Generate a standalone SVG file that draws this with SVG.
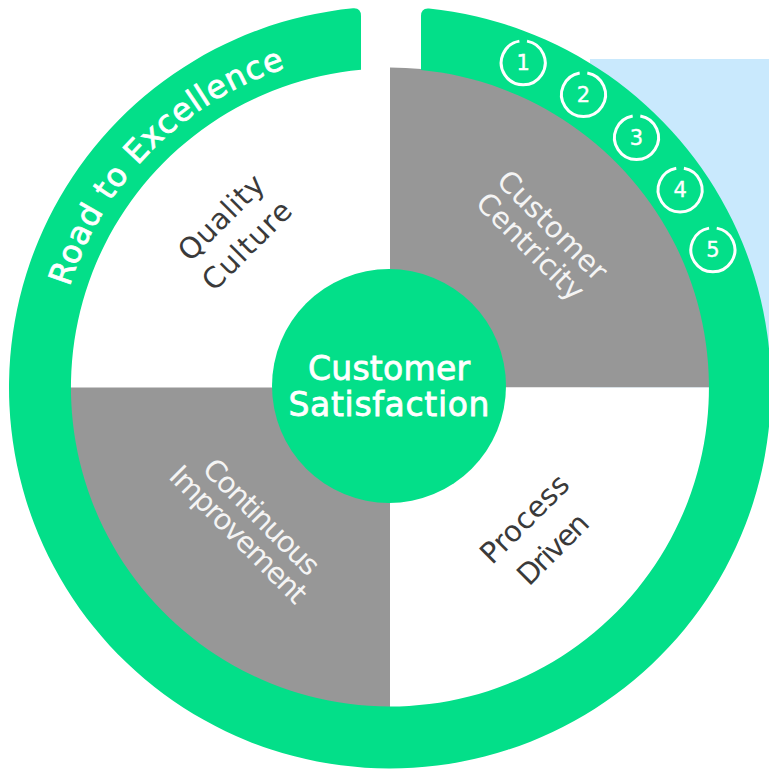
<svg xmlns="http://www.w3.org/2000/svg" xmlns:xlink="http://www.w3.org/1999/xlink" width="769" height="769" viewBox="0 0 769 769">
  <style>
    .green { fill: #03DF89; }
    .gray { fill: #979797; }
    .white { fill: #FFFFFF; }
    .lbl { font-family: "DejaVu Sans", "Liberation Sans", sans-serif; font-size: 29px; text-anchor: middle; }
    .dark { fill: #3A3A3A; }
    .light { fill: #F4F4F4; }
    .road { font-family: "DejaVu Sans", "Liberation Sans", sans-serif; font-size: 32px; fill: #FFFFFF; letter-spacing: 0.9px; stroke: #FFFFFF; stroke-width: 0.8px; }
    .num { font-family: "DejaVu Sans", "Liberation Sans", sans-serif; font-size: 21px; fill: #FFFFFF; text-anchor: middle; stroke: #FFFFFF; stroke-width: 0.4px; }
    .center { font-family: "DejaVu Sans", "Liberation Sans", sans-serif; font-size: 33px; fill: #FFFFFF; text-anchor: middle; stroke: #FFFFFF; stroke-width: 0.8px; }
  </style>
  <defs>
    <path id="roadArc" d="M69.4 287 A336 336 0 0 1 331.7 56.6" fill="none"/>
    <path id="stepRing" d="M3.82 -21.67 A22 22 0 1 1 -3.82 -21.67" fill="none" stroke="#FFFFFF" stroke-width="3"/>
  </defs>

  <rect x="0" y="0" width="769" height="769" fill="#FFFFFF"/>
  <rect id="backdrop" x="590" y="59" width="179" height="330" fill="#C9E9FD"/>

  <g id="quadrant-quality-culture">
    <path class="white" d="M390 387.5 L70 387.5 A320 320 0 0 1 390 67.5 Z"/>
    <text class="lbl dark" transform="translate(223 219.5) rotate(-45)" y="7.2" textLength="108" lengthAdjust="spacing">Quality</text>
    <text class="lbl dark" transform="translate(246.5 245) rotate(-45)" y="10.6" textLength="113" lengthAdjust="spacing">Culture</text>
  </g>

  <g id="quadrant-customer-centricity">
    <path class="gray" d="M390 387.5 L390 67.5 A320 320 0 0 1 710 387.5 Z"/>
    <text class="lbl light" transform="translate(553 225) rotate(45)" y="10.6" textLength="142" lengthAdjust="spacing">Customer</text>
    <text class="lbl light" transform="translate(528.5 248.5) rotate(45)" y="7.2" textLength="139" lengthAdjust="spacing">Centricity</text>
  </g>

  <g id="quadrant-process-driven">
    <path class="white" d="M390 387.5 L710 387.5 A320 320 0 0 1 390 707.5 Z"/>
    <text class="lbl dark" transform="translate(524 518.5) rotate(-45)" y="10.6" textLength="112" lengthAdjust="spacing">Process</text>
    <text class="lbl dark" transform="translate(552.5 548.5) rotate(-45)" y="10.6" textLength="88" lengthAdjust="spacing">Driven</text>
  </g>

  <g id="quadrant-continuous-improvement">
    <path class="gray" d="M390 387.5 L390 707.5 A320 320 0 0 1 70 387.5 Z"/>
    <text class="lbl light" transform="translate(262 516.5) rotate(45)" y="10.6" textLength="151" lengthAdjust="spacing">Continuous</text>
    <text class="lbl light" transform="translate(236.5 536.5) rotate(45)" y="7.2" textLength="181" lengthAdjust="spacing">Improvement</text>
  </g>

  <g id="road-to-excellence">
    <path class="green" d="M361 69.8 L361 16 Q361 7.6 353 8.3 A381 381 0 1 0 429 8.5 Q421 7.8 421 16 L421 70 A319 319 0 1 1 361 69.8 Z"/>
    <text class="road"><textPath xlink:href="#roadArc" href="#roadArc">Road to Excellence</textPath></text>
  </g>

  <g id="steps">
    <g id="step-1"><use href="#stepRing" xlink:href="#stepRing" x="523.2" y="62.8"/><text class="num" x="523.2" y="70.2">1</text></g>
    <g id="step-2"><use href="#stepRing" xlink:href="#stepRing" x="583.5" y="94.6"/><text class="num" x="583.5" y="102">2</text></g>
    <g id="step-3"><use href="#stepRing" xlink:href="#stepRing" x="636.5" y="137.6"/><text class="num" x="636.5" y="145">3</text></g>
    <g id="step-4"><use href="#stepRing" xlink:href="#stepRing" x="680.1" y="189.9"/><text class="num" x="680.1" y="197.3">4</text></g>
    <g id="step-5"><use href="#stepRing" xlink:href="#stepRing" x="712.9" y="249.8"/><text class="num" x="712.9" y="257.2">5</text></g>
  </g>

  <g id="customer-satisfaction">
    <circle class="green" cx="389" cy="386" r="117"/>
    <text class="center" x="389" y="380" textLength="162" lengthAdjust="spacing">Customer</text>
    <text class="center" x="389" y="416" textLength="201" lengthAdjust="spacing">Satisfaction</text>
  </g>

  <g id="connectors"></g>
</svg>
